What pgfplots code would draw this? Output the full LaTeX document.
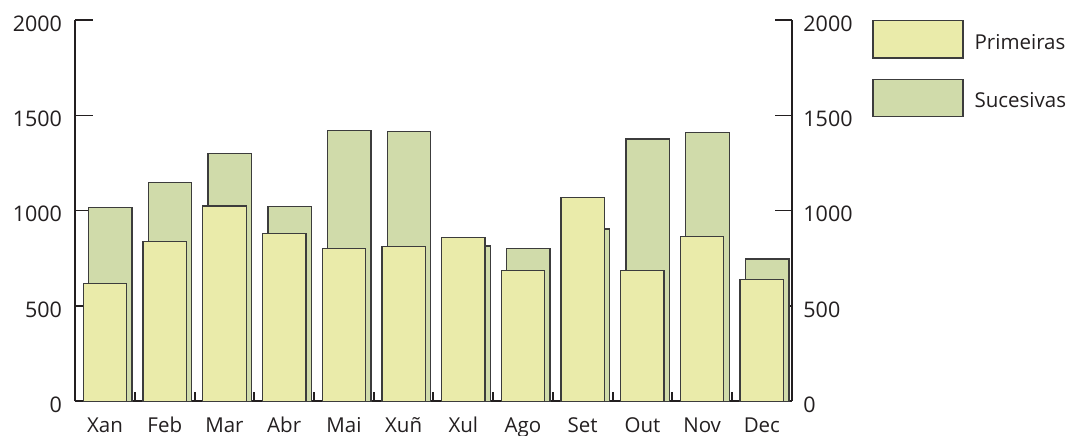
\documentclass[border=0pt]{standalone}
\usepackage{fontspec}
\setmainfont{Open Sans}
\usepackage{pgfplots}
\pgfplotsset{compat=1.18}
\definecolor{primeiras}{RGB}{234,235,170}
\definecolor{sucesivas}{RGB}{208,219,170}
\definecolor{barline}{RGB}{60,60,60}
\definecolor{ink}{RGB}{35,31,32}
\pgfplotsset{
  boxlegend/.style={legend image code/.code={\draw[##1] (0pt,-15.7pt) rectangle (90pt,21.6pt);}},
  base/.style={
    scale only axis, width=716.5pt, height=381.4pt,
    at={(75.2pt,34.6pt)}, anchor=south west,
    xmin=-0.5, xmax=11.5, ymin=0, ymax=2000,
    tick align=inside,
    axis line style={line width=2pt, draw=ink},
    tick label style={font=\fontsize{21.5}{25}\selectfont, text=ink},
    /pgf/number format/assume math mode=true,
    /pgf/number format/1000 sep={}
  }
}
\begin{document}
\begin{tikzpicture}[font=\fontsize{20}{24}\selectfont]
\useasboundingbox (0,0) rectangle (1068pt,436pt);
% small ticks between months
\begin{axis}[base, axis x line*=bottom, axis y line=none,
  xtick={0.5,1.5,...,10.5}, xticklabels={}, ytick=\empty,
  major tick length=9pt, xtick style={line width=2pt, draw=ink}]
\end{axis}
% right axis
\begin{axis}[base, axis y line*=right, axis x line=none, xtick=\empty,
  ytick={0,500,...,2000}, major tick length=17pt,
  ytick style={line width=1.5pt, draw=ink},
  yticklabel style={anchor=west, inner sep=0pt, xshift=11.5pt, yshift=-3.5pt}]
\end{axis}
% bars, left axis
\begin{axis}[base, axis x line*=bottom, axis y line*=left,
  xtick={0,...,11},
  xticklabels={Xan,Feb,Mar,Abr,Mai,Xuñ,Xul,Ago,Set,Out,Nov,Dec},
  xtick style={draw=none},
  xticklabel style={anchor=base, yshift=-31pt, font=\fontsize{20.5}{24}\selectfont},
  ytick={0,500,...,2000}, major tick length=18pt,
  ytick style={line width=1.5pt, draw=ink},
  yticklabel style={anchor=east, inner sep=0pt, xshift=-13pt, yshift=-3.5pt},
  reverse legend,
  legend style={at={(1.1125,1)}, anchor=north west, draw=none, fill=none,
    inner sep=0pt, outer sep=0pt, row sep=20pt, column sep=9pt,
    font=\fontsize{20.5}{24}\selectfont, text=ink},
  legend cell align=left]
\addplot[ybar, bar width=0.727, bar shift=0.09, fill=sucesivas, draw=barline,
  line width=1.3pt, boxlegend] coordinates {
  (0,1016) (1,1147) (2,1299) (3,1021) (4,1422) (5,1414)
  (6,815) (7,801) (8,904) (9,1376) (10,1409) (11,747)
};
\addlegendentry{Sucesivas}
\addplot[ybar, bar width=0.727, bar shift=0, fill=primeiras, draw=barline,
  line width=1.3pt, boxlegend] coordinates {
  (0,617) (1,837) (2,1025) (3,879) (4,801) (5,811)
  (6,858) (7,687) (8,1068) (9,687) (10,866) (11,638)
};
\addlegendentry{Primeiras}
\end{axis}
\end{tikzpicture}
\end{document}
